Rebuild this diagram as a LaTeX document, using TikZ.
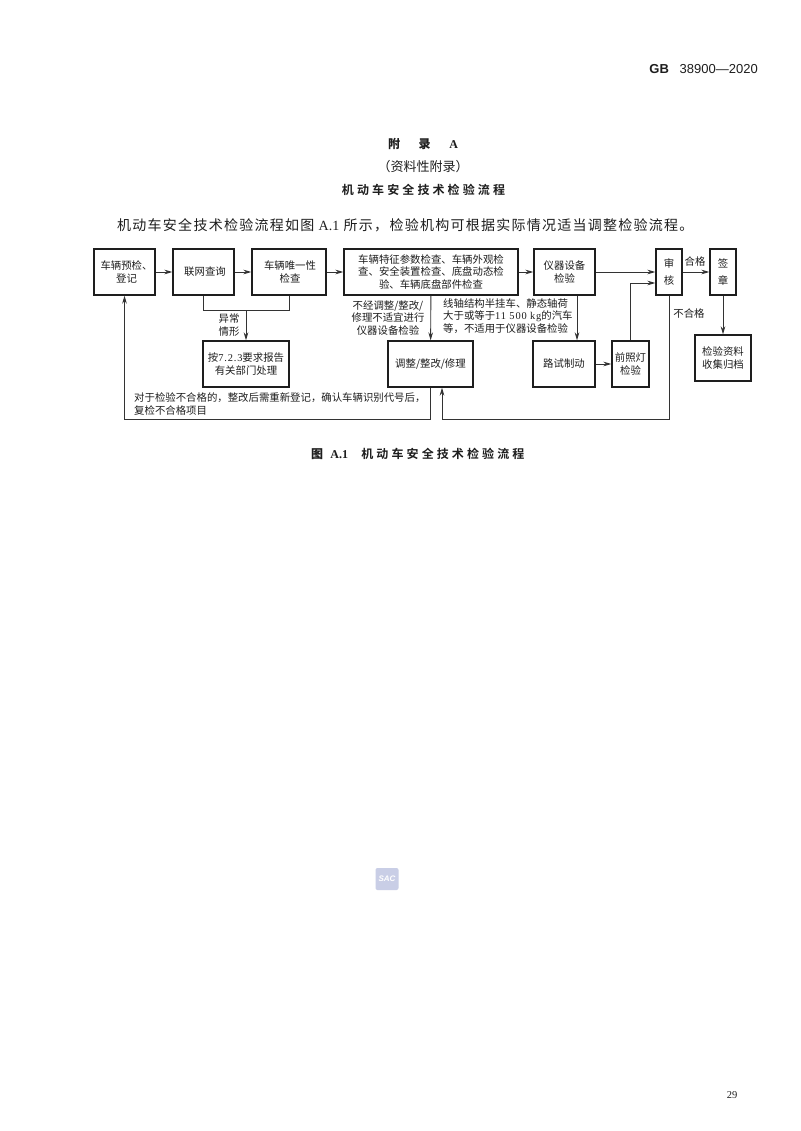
\documentclass[tikz,border=0pt]{standalone}
\usepackage{fontspec}
\setmainfont{Noto Sans CJK SC}
\newfontfamily\latinserif{Liberation Serif}
\newfontfamily\latinsans{Liberation Sans}
\newfontfamily\digitserif[LetterSpace=8]{Liberation Serif}
\newfontfamily\introfont[LetterSpace=9]{Noto Sans CJK SC}
\newfontfamily\titlefont[LetterSpace=26,BoldFont={Noto Sans CJK SC Bold}]{Noto Sans CJK SC}
\usetikzlibrary{arrows.meta}

\definecolor{inkc}{HTML}{1E1E1E}
\definecolor{linec}{HTML}{333333}
\definecolor{sealc}{HTML}{C9CEE6}

\tikzset{
	flowbox/.style={draw=inkc, line width=1.3pt, inner sep=0pt, align=center, text=inkc},
	flowlabel/.style={inner sep=0pt, align=center, text=inkc},
	flowline/.style={draw=linec, line width=0.9pt},
	flowarrow/.style={flowline, -{Stealth[length=8pt,width=4.6pt]}},
	pagetext/.style={inner sep=0pt, text=inkc},
}
\newcommand{\boxfont}{\fontsize{10.4}{13.2}\selectfont}
\newcommand{\labelfont}{\fontsize{10.4}{12.8}\selectfont}

\begin{document}
\begin{tikzpicture}[x=1pt, y=-1pt, font=\boxfont]
	\useasboundingbox (0,0) rectangle (800,1131);
	\fill[white] (0,0) rectangle (800,1131);
	% page text
	\node[pagetext, anchor=east] (stdno) at (758,69) {\fontsize{13}{15}\selectfont\latinsans\textbf{GB}\ \ \ 38900—2020};
	\node[pagetext] (apptitle) at (423,144) {\fontsize{12}{14}\selectfont\bfseries 附\hspace{1.55em}录\hspace{1.55em}{\latinserif A}};
	\node[pagetext] (appkind) at (423,167) {\fontsize{13}{15}\selectfont （资料性附录）};
	\node[pagetext] (appname) at (423.5,190) {\fontsize{12}{14}\selectfont\titlefont\bfseries 机动车安全技术检验流程};
	\node[pagetext, anchor=west] (intro) at (117,225) {\fontsize{14}{16}\selectfont\introfont 机动车安全技术检验流程如图 {\latinserif A.1} 所示，检验机构可根据实际情况适当调整检验流程。};
	\node[pagetext, anchor=west] (figcap) at (311,454) {\fontsize{12}{14}\selectfont\bfseries 图\hspace{0.6em}{\latinserif A.1}\hspace{1.1em}{\titlefont\bfseries 机动车安全技术检验流程}};
	\node[pagetext] (pageno) at (732,1095) {\fontsize{10.5}{12}\selectfont\latinserif 29};
	\node[fill=sealc, text=white, inner sep=0pt, minimum width=23pt, minimum height=22pt, rounded corners=2pt] (seal) at (387,879) {\fontsize{8}{9}\selectfont\latinsans\textbf{\textit{SAC}}};
	% top row
	\node[flowbox, minimum width=61pt, minimum height=46pt] (precheck) at (124.5,272) {\hspace{4pt}车辆预检、\\\hspace{4pt}登记};
	\node[flowbox, minimum width=61pt, minimum height=46pt] (online) at (203.5,272) {\hspace{3pt}联网查询};
	\node[flowbox, minimum width=74pt, minimum height=46pt] (unique) at (289,272) {\hspace{2pt}车辆唯一性\\\hspace{2pt}检查};
	\node[flowbox, minimum width=174pt, minimum height=46pt, font=\labelfont] (params) at (431,272) {车辆特征参数检查、车辆外观检\\查、安全装置检查、底盘动态检\\验、车辆底盘部件检查};
	\node[flowbox, minimum width=61pt, minimum height=46pt] (device) at (564.5,272) {仪器设备\\检验};
	\node[flowbox, minimum width=26pt, minimum height=46pt] (review) at (669,272) {审\\[3.5pt]核};
	\node[flowbox, minimum width=26pt, minimum height=46pt] (sign) at (723,272) {签\\[3.5pt]章};
	% lower row
	\node[flowbox, minimum width=86pt, minimum height=46pt] (report) at (246,364) {按{\digitserif 7.2.3}要求报告\\有关部门处理};
	\node[flowbox, minimum width=85pt, minimum height=46pt] (repair) at (430.5,364) {调整/整改/修理};
	\node[flowbox, minimum width=62pt, minimum height=46pt] (road) at (564,364) {路试制动};
	\node[flowbox, minimum width=37pt, minimum height=46pt] (lamp) at (630.5,364) {前照灯\\检验};
	\node[flowbox, minimum width=56pt, minimum height=46pt] (archive) at (723,358) {检验资料\\收集归档};
	% labels
	\node[flowlabel, font=\labelfont] (lababn) at (229,325) {异常\\情形};
	\node[flowlabel, font=\labelfont] (labunfit) at (388,318) {不经调整/整改/\\修理不适宜进行\\仪器设备检验};
	\node[flowlabel, font=\labelfont, anchor=west, align=left] (labaxle) at (443,316) {线轴结构半挂车、静态轴荷\\大于或等于{\digitserif 11 500 kg}的汽车\\等，不适用于仪器设备检验};
	\node[flowlabel, font=\labelfont] (labfail) at (689,314) {不合格};
	\node[flowlabel, font=\labelfont] (labpass) at (695,262) {合格};
	\node[flowlabel, font=\labelfont, anchor=west, align=left] (labredo) at (134,404) {对于检验不合格的，整改后需重新登记，确认车辆识别代号后，\\复检不合格项目};
	% connectors
	\draw[flowarrow] (precheck) -- (online);
	\draw[flowarrow] (online) -- (unique);
	\draw[flowarrow] (unique) -- (params);
	\draw[flowarrow] (params) -- (device);
	\draw[flowarrow] (device) -- (review);
	\draw[flowarrow] (review) -- (sign);
	\draw[flowarrow] (sign) -- (archive);
	\draw[flowarrow] (params) -- (repair);
	\draw[flowarrow] ([xshift=12.5pt]device.south) -- ([xshift=13pt]road.north);
	\draw[flowarrow] (road) -- (lamp);
	\draw[flowarrow] (lamp.north) |- ([yshift=-11pt]review.west);
	\draw[flowline] (online.south) -- ++(0,15) -| (unique.south);
	\draw[flowarrow] (report.north |- 0,310) -- (report.north);
	\draw[flowarrow] (repair.south) -- ++(0,32) -| (precheck.south);
	\draw[flowarrow] (review.south) |- (442,419) -- ([xshift=11.5pt]repair.south);
\end{tikzpicture}
\end{document}
